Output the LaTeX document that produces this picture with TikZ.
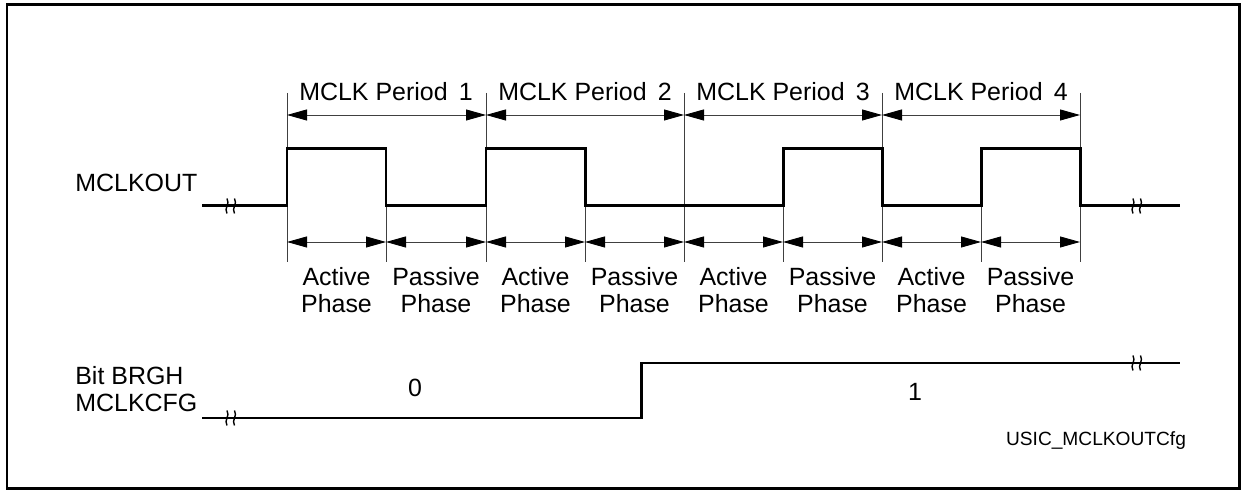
\documentclass[tikz,border=0pt]{standalone}
\usepackage{fontspec}
\setmainfont{Liberation Sans}
\usepackage{tikz}
\usetikzlibrary{arrows.meta}

\tikzset{
  signal/.style={line width=1.7pt, line join=miter},
  guide/.style={line width=0.5pt, black!75},
  dim/.style={guide, {Triangle[length=4mm,width=2.2mm,fill=black,color=black]}-{Triangle[length=4mm,width=2.2mm,fill=black,color=black]}},
  lbl/.style={inner sep=0pt, font=\fontsize{14.2pt}{14.9pt}\selectfont},
  brkmark/.pic={
    \draw[line width=0.8pt] (-0.10,-0.15) .. controls (-0.17,-0.04) and (-0.03,0.04) .. (-0.10,0.15);
    \draw[line width=0.8pt] (0.05,-0.15) .. controls (-0.02,-0.04) and (0.12,0.04) .. (0.05,0.15);
  }
}

\begin{document}
\begin{tikzpicture}
  \useasboundingbox (0,0) rectangle (24.82,9.82);
  \draw[line width=1.7pt] (0.14,0.05) rectangle (24.78,9.72);

  % Edges of the clock (low level)
  \coordinate (e0) at (5.74,5.70);
  \coordinate (e1) at (7.72,5.70);
  \coordinate (e2) at (9.72,5.70);
  \coordinate (e3) at (11.70,5.70);
  \coordinate (e4) at (13.68,5.70);
  \coordinate (e5) at (15.66,5.70);
  \coordinate (e6) at (17.64,5.70);
  \coordinate (e7) at (19.62,5.70);
  \coordinate (e8) at (21.60,5.70);
  \coordinate (top) at (0,7.96);
  \coordinate (bot) at (0,4.58);
  \coordinate (per) at (0,7.52);
  \coordinate (pha) at (0,4.98);
  \coordinate (clkA) at (4.04,5.70);
  \coordinate (clkB) at (23.60,5.70);

  % Labels
  \node[lbl, anchor=west] (mclkout) at (1.50,6.16) {MCLKOUT};
  \node[lbl, anchor=west, align=left] (brgh) at (1.50,2.04) {Bit BRGH\\MCLKCFG};
  \node[lbl] (per1) at (7.72,7.98) {MCLK Period\, 1};
  \node[lbl] (per2) at (11.70,7.98) {MCLK Period\, 2};
  \node[lbl] (per3) at (15.66,7.98) {MCLK Period\, 3};
  \node[lbl] (per4) at (19.62,7.98) {MCLK Period\, 4};
  \node[lbl, align=center] (ph1) at (6.73,4.02) {Active\\Phase};
  \node[lbl, align=center] (ph2) at (8.72,4.02) {Passive\\Phase};
  \node[lbl, align=center] (ph3) at (10.71,4.02) {Active\\Phase};
  \node[lbl, align=center] (ph4) at (12.69,4.02) {Passive\\Phase};
  \node[lbl, align=center] (ph5) at (14.67,4.02) {Active\\Phase};
  \node[lbl, align=center] (ph6) at (16.65,4.02) {Passive\\Phase};
  \node[lbl, align=center] (ph7) at (18.63,4.02) {Active\\Phase};
  \node[lbl, align=center] (ph8) at (20.61,4.02) {Passive\\Phase};
  \node[lbl] (val0) at (8.30,2.06) {0};
  \node[lbl] (val1) at (18.30,1.98) {1};
  \node[inner sep=0pt, font=\fontsize{10.9pt}{12pt}\selectfont] (fig) at (21.92,1.00) {USIC\_MCLKOUTCfg};

  % Guide lines
  \draw[guide] (e0|-top) -- (e0|-bot);
  \draw[guide] (e2|-top) -- (e2|-bot);
  \draw[guide] (e4|-top) -- (e4|-bot);
  \draw[guide] (e6|-top) -- (e6|-bot);
  \draw[guide] (e8|-top) -- (e8|-bot);
  \draw[guide] (e1) -- (e1|-bot);
  \draw[guide] (e3) -- (e3|-bot);
  \draw[guide] (e5) -- (e5|-bot);
  \draw[guide] (e7) -- (e7|-bot);

  % Periods
  \draw[dim] (e0|-per) -- (e2|-per);
  \draw[dim] (e2|-per) -- (e4|-per);
  \draw[dim] (e4|-per) -- (e6|-per);
  \draw[dim] (e6|-per) -- (e8|-per);
  % Phases
  \draw[dim] (e0|-pha) -- (e1|-pha);
  \draw[dim] (e1|-pha) -- (e2|-pha);
  \draw[dim] (e2|-pha) -- (e3|-pha);
  \draw[dim] (e3|-pha) -- (e4|-pha);
  \draw[dim] (e4|-pha) -- (e5|-pha);
  \draw[dim] (e5|-pha) -- (e6|-pha);
  \draw[dim] (e6|-pha) -- (e7|-pha);
  \draw[dim] (e7|-pha) -- (e8|-pha);

  % Signals
  \draw[signal] (clkA) -- (e0) -- ++(0,1.14) -| (e1) -- (e2) -- ++(0,1.14) -| (e3)
    -- (e5) -- ++(0,1.14) -| (e6) -- (e7) -- ++(0,1.14) -| (e8) -- (clkB);
  \draw[signal] (4.04,1.46) -- (12.82,1.46) -- (12.82,2.56) -- (23.60,2.56);
  \pic at (4.64,5.70) {brkmark};
  \pic at (22.76,5.70) {brkmark};
  \pic at (4.64,1.46) {brkmark};
  \pic at (22.76,2.56) {brkmark};
\end{tikzpicture}
\end{document}
